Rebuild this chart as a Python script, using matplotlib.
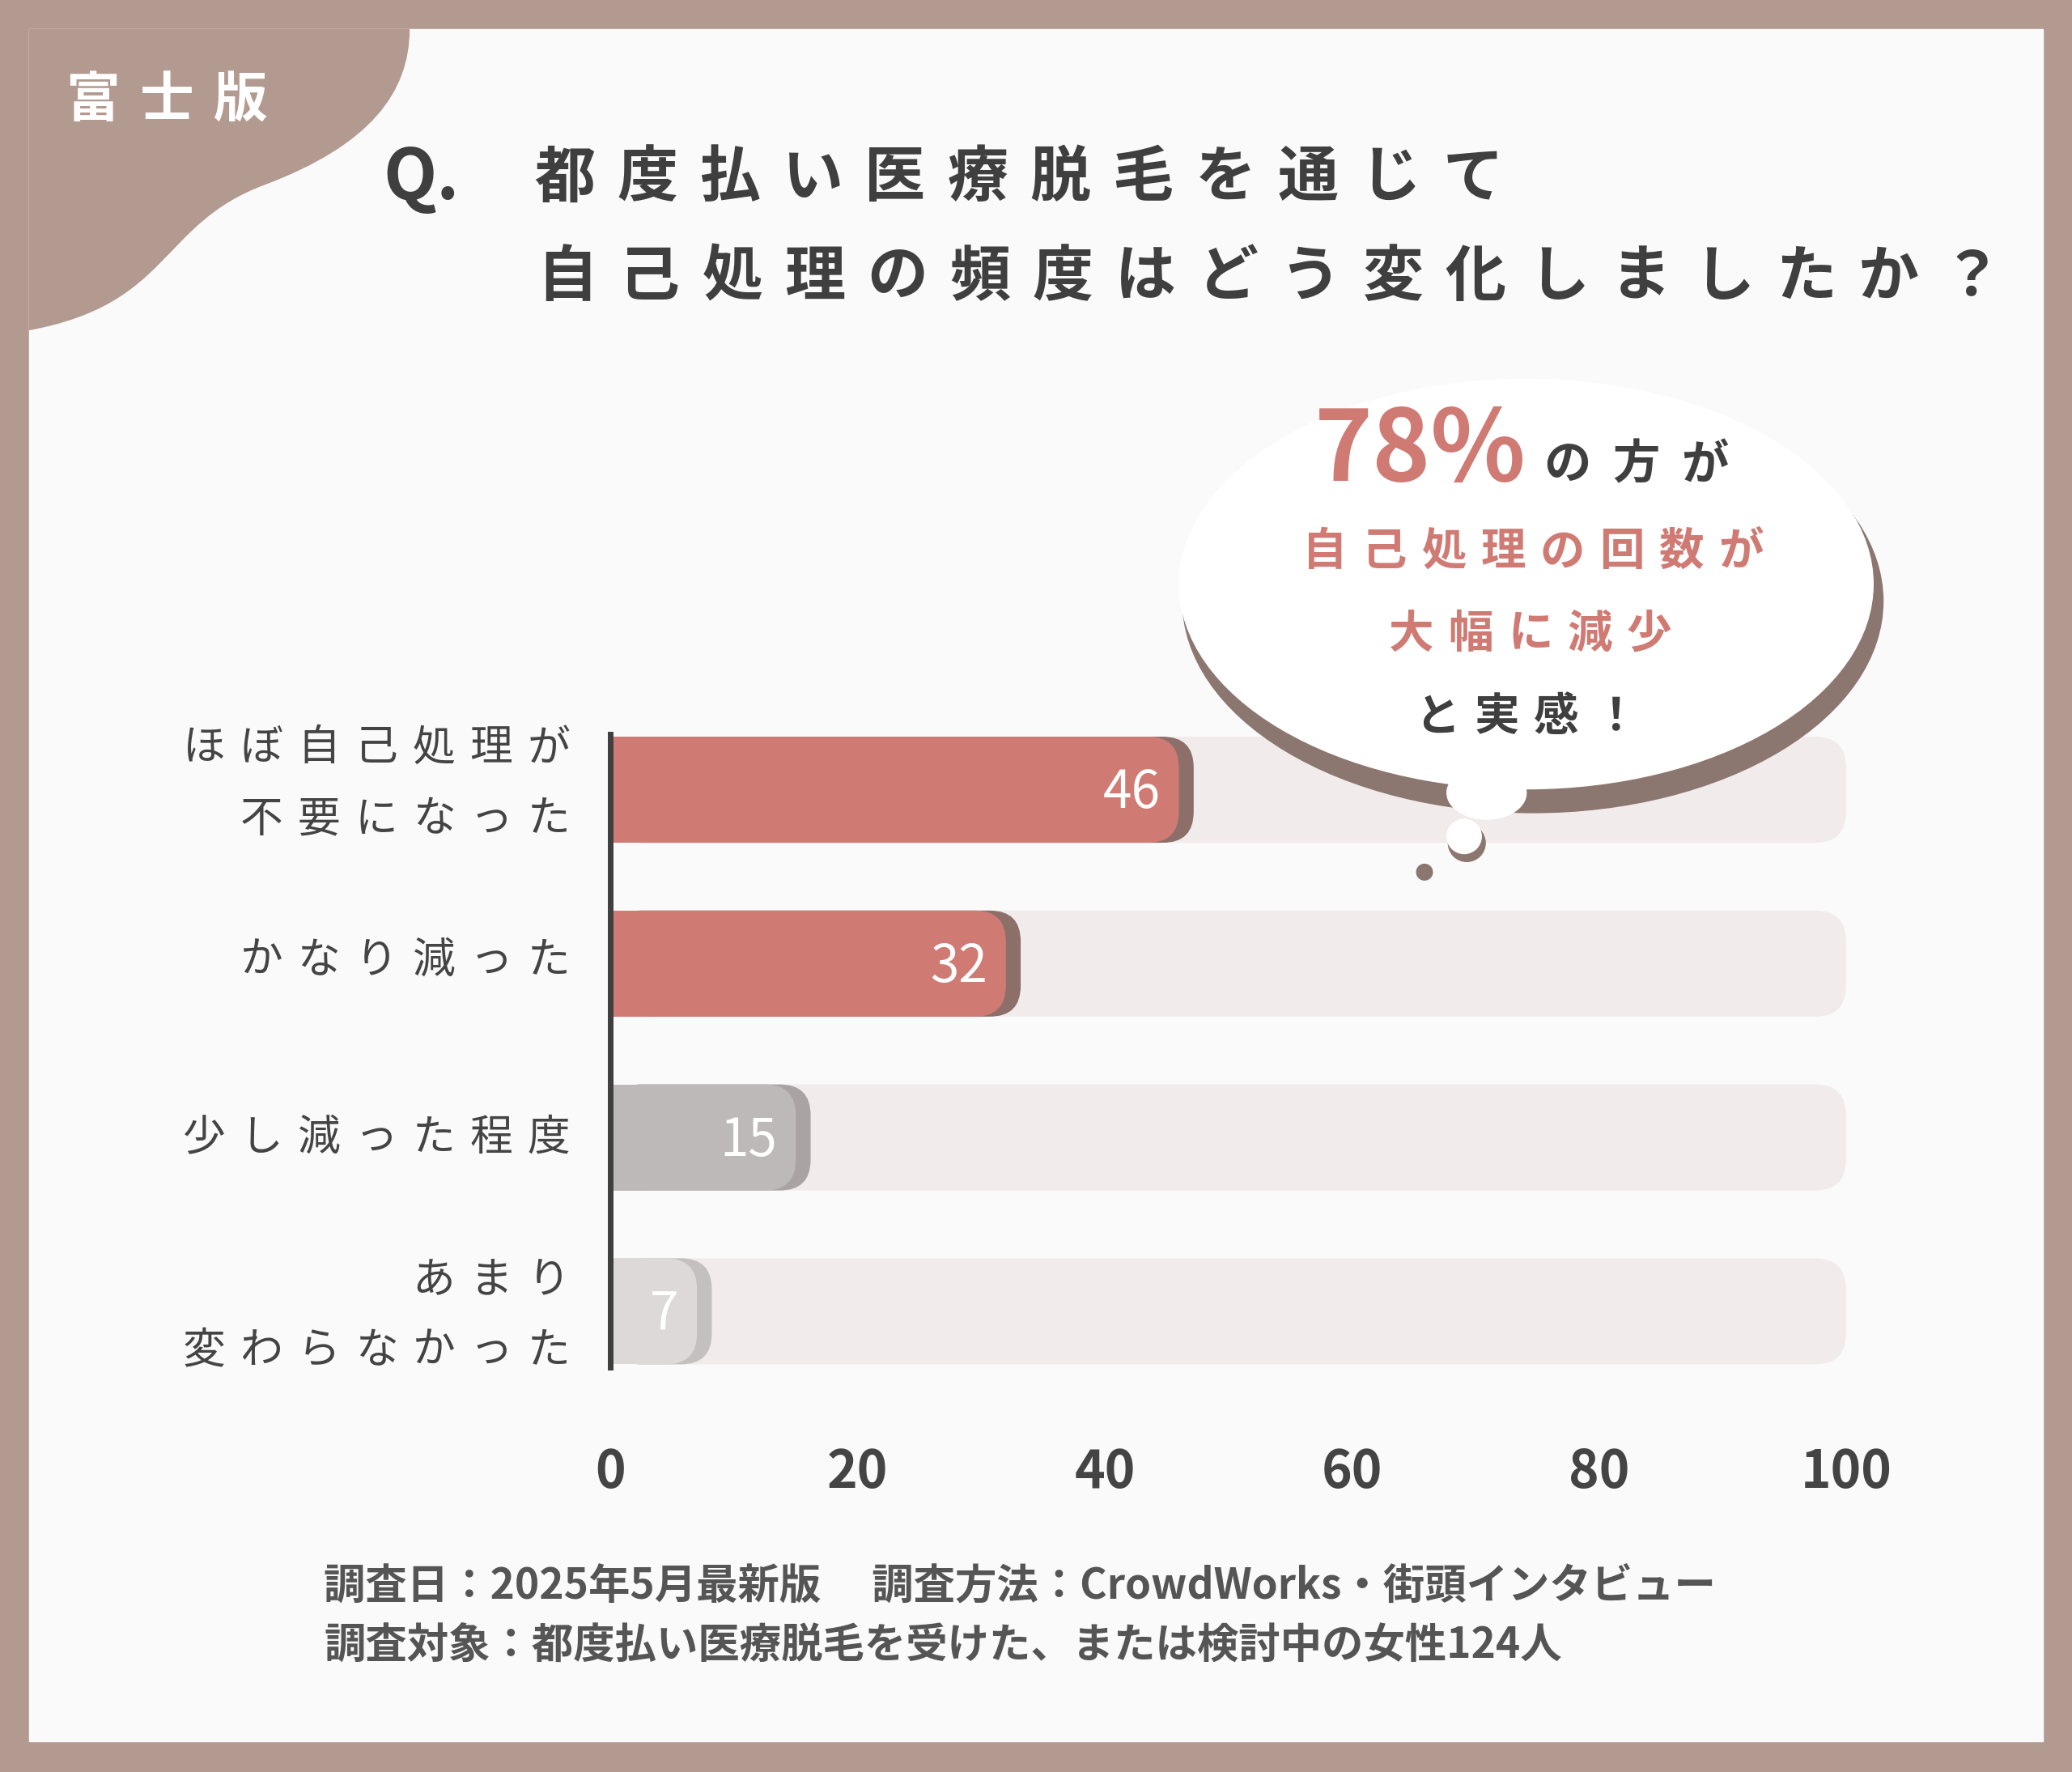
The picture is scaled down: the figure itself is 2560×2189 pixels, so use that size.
import matplotlib.pyplot as plt
from matplotlib.patches import FancyBboxPatch, Ellipse, Circle, PathPatch, Rectangle
from matplotlib.path import Path

plt.rcParams['font.family'] = ['Noto Sans CJK JP', 'DejaVu Sans']

# data
categories = ['ほぼ自己処理が\n不要になった', 'かなり減った', '少し減った程度', 'あまり\n変わらなかった']
values = [46, 32, 15, 7]
bar_colors = ['#d07a74', '#d07a74', '#bdb9b8', '#dcd9d8']
shadow_colors = ['#8c6f69', '#8c6f69', '#a9a4a3', '#c4c0bf']
xticks = [0, 20, 40, 60, 80, 100]

W, H = 1568, 1341
fig = plt.figure(figsize=(25.6, 21.89), dpi=100)
fig.patch.set_facecolor('#b39a90')


def px_axes(z):
    a = fig.add_axes([0, 0, 1, 1], zorder=z)
    a.set_xlim(0, W)
    a.set_ylim(H, 0)
    a.axis('off')
    a.patch.set_alpha(0)
    return a


def spaced(a, x, y, s, pitch, ha='left', **kw):
    # draw text one char at a time with a fixed pitch (letter spacing)
    n = len(s)
    if ha == 'left':
        x0 = x + pitch / 2
    elif ha == 'right':
        x0 = x - pitch * n + pitch / 2
    else:
        x0 = x - pitch * n / 2 + pitch / 2
    for k, ch in enumerate(s):
        a.text(x0 + k * pitch, y, ch, ha='center', va='center', **kw)


bg = px_axes(0)
bg.add_patch(Rectangle((22, 22), 1524, 1296, color='#fbfafa', zorder=0))
verts = [(22, 22), (310, 22), (310, 70), (280, 110), (200, 140),
         (120, 170), (130, 230), (22, 250), (22, 22)]
codes = [Path.MOVETO, Path.LINETO, Path.CURVE4, Path.CURVE4, Path.CURVE4,
         Path.CURVE4, Path.CURVE4, Path.CURVE4, Path.CLOSEPOLY]
bg.add_patch(PathPatch(Path(verts, codes), color='#b39a90', lw=0, zorder=1))
spaced(bg, 42, 76, '富士版', 56, color='white', fontsize=48, fontweight='bold')

bg.text(290, 135, 'Q.', color='#3f3f3f', fontsize=62, fontweight='bold', ha='left', va='center')
spaced(bg, 396, 135, '都度払い医療脱毛を通じて', 62.5, color='#3f3f3f', fontsize=54, fontweight='bold')
spaced(bg, 398, 210, '自己処理の頻度はどう変化しましたか？', 62.5, color='#3f3f3f', fontsize=54,
       fontweight='bold')

# category labels
label_y = [[566, 620], [727], [861], [969, 1022]]
for cat, ys in zip(categories, label_y):
    for line, yy in zip(cat.split('\n'), ys):
        spaced(bg, 437, yy, line, 43.5, ha='right', color='#444444', fontsize=38)

bg.text(245, 1200, '調査日：2025年5月最新版　 調査方法：CrowdWorks・街頭インタビュー',
        color='#555555', fontsize=37, fontweight='bold', ha='left', va='center')
bg.text(245, 1245, '調査対象：都度払い医療脱毛を受けた、または検討中の女性124人',
        color='#555555', fontsize=37, fontweight='bold', ha='left', va='center')

# chart
ax = fig.add_axes([462 / W, 1 - 1045 / H, 935 / W, 500 / H], zorder=1)
ax.patch.set_alpha(0)
ax.set_xlim(0, 100)
ax.set_ylim(3.4, -0.4)
asp = (935 / 100) / (500 / 3.8)
h = 0.61
for i, v in enumerate(values):
    ax.add_patch(FancyBboxPatch((0, i - h / 2), 100, h, boxstyle='round,pad=0,rounding_size=2.5',
                                mutation_aspect=asp, fc='#f1eceb', ec='none', zorder=1, clip_on=False))
    ax.add_patch(FancyBboxPatch((0, i - h / 2), v + 1.2, h, boxstyle='round,pad=0,rounding_size=2.5',
                                mutation_aspect=asp, fc=shadow_colors[i], ec='none', zorder=2, clip_on=False))
    ax.add_patch(FancyBboxPatch((0, i - h / 2), v, h, boxstyle='round,pad=0,rounding_size=2.5',
                                mutation_aspect=asp, fc=bar_colors[i], ec='none', zorder=3, clip_on=False))
    ax.add_patch(Rectangle((0, i - h / 2), 3, h, fc=bar_colors[i], ec='none', zorder=3))
    ax.text(v - 1.5, i + 0.02, str(v), color='white', fontsize=46, ha='right', va='center', zorder=4)

ax.set_yticks([])
ax.set_xticks(xticks)
ax.set_xticklabels([str(t) for t in xticks], fontsize=46, color='#444444', fontweight='bold')
ax.tick_params(length=0, axis='x', pad=58)
for s in ['top', 'right', 'bottom']:
    ax.spines[s].set_visible(False)
ax.spines['left'].set_color('#3f3f3f')
ax.spines['left'].set_linewidth(5)
ax.spines['left'].set_zorder(5)
ax.spines['left'].set_bounds(-0.32, 3.32)

# speech bubble on top of the chart
ov = px_axes(2)
ov.add_patch(Ellipse((1160, 455), 530, 320, color='#8c7670', zorder=2))
ov.add_patch(Ellipse((1155, 442), 525, 310, color='white', zorder=3))
ov.add_patch(Ellipse((1125, 600), 60, 40, color='white', zorder=3))
ov.add_patch(Circle((1110, 638), 14, color='#8c7670', zorder=2))
ov.add_patch(Circle((1108, 633), 13, color='white', zorder=3))
ov.add_patch(Circle((1078, 660), 6, color='#8c7670', zorder=3))
red = '#d07a74'
ov.text(1155, 342, '78%', color=red, fontsize=88, fontweight='bold', ha='right', va='center', zorder=4)
spaced(ov, 1160, 352, 'の方が', 52, color='#3f3f3f', fontsize=42, fontweight='bold', zorder=4)
spaced(ov, 1160, 418, '自己処理の回数が', 45, ha='center', color=red, fontsize=40, fontweight='bold', zorder=4)
spaced(ov, 1158, 480, '大幅に減少', 45, ha='center', color=red, fontsize=40, fontweight='bold', zorder=4)
spaced(ov, 1155, 543, 'と実感！', 45, ha='center', color='#3f3f3f', fontsize=40, fontweight='bold', zorder=4)

fig.savefig('out.png', dpi=100, facecolor=fig.get_facecolor())
